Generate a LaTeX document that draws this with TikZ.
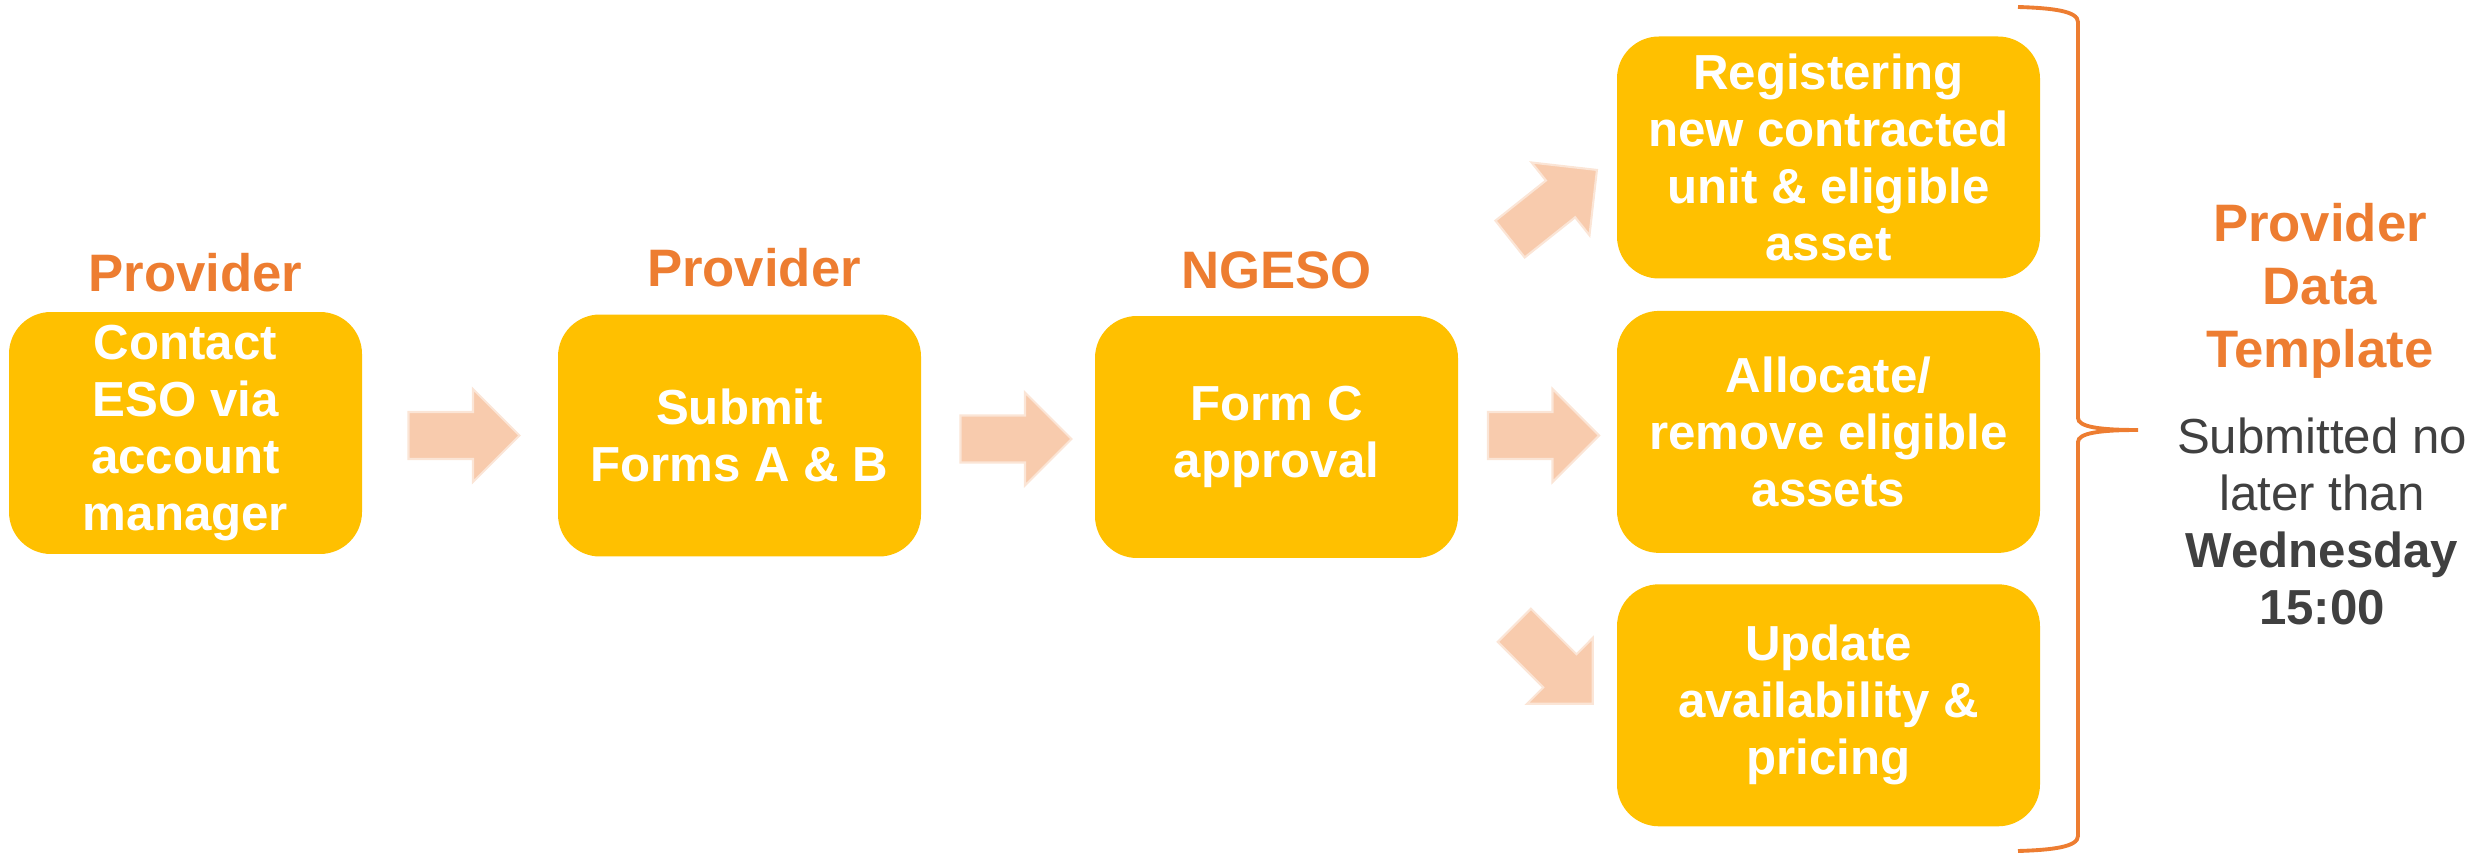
\documentclass[tikz,border=0pt]{standalone}
\usepackage{fontspec}
\setmainfont{Liberation Sans}
\usetikzlibrary{positioning}
\definecolor{boxgold}{HTML}{FFC000}
\definecolor{arrowfill}{HTML}{F8CBAD}
\definecolor{arrowline}{HTML}{FBE5D6}
\definecolor{labelorange}{HTML}{ED7D31}
\definecolor{notegray}{HTML}{404040}

\begin{document}
\begin{tikzpicture}[x=0.1mm,y=-0.1mm]
\tikzstyle{box} = [fill=boxgold,rounded corners=4.2mm,text=white,font=\fontsize{14}{16.2}\selectfont\bfseries,align=center,inner sep=0pt,minimum height=24.2mm]
\tikzstyle{lbl} = [text=labelorange,font=\fontsize{15}{17.9}\selectfont\bfseries,inner sep=0pt]
\tikzstyle{barrow} = [fill=arrowfill,draw=arrowline,line width=0.6pt,line join=miter]
\tikzstyle{brace} = [draw=labelorange,line width=1.1pt]

\useasboundingbox (0,0) rectangle (2479,854);

\node[box,minimum width=35.3mm] (b1) at (185.5,433) {Contact\\ESO via\\account\\manager};
\node[box,minimum width=36.3mm] (b2) at (739.5,435.5) {Submit\\Forms A \& B};
\node[box,minimum width=36.3mm] (b3) at (1276.5,437) {Form C\\approval};

\node[box,minimum width=42.3mm] (b4) at (1828.5,157.5) {Registering\\new contracted\\unit \& eligible\\asset};
\node[box,minimum width=42.3mm,below=3.1mm of b4] (b5) {Allocate/\\remove eligible\\assets};
\node[box,minimum width=42.3mm,below=3mm of b5] (b6) {Update\\availability \&\\pricing};

\node[lbl,above=1.9mm of b1,xshift=1mm] (p1) {Provider};
\node[lbl,above=2.6mm of b2,xshift=1.45mm] (p2) {Provider};
\node[lbl,above=2.6mm of b3] (p3) {NGESO};

\foreach \px/\py/\ang in {464/435.5/0, 1016/439/0, 1543.5/435.5/0, 1553.5/204.5/38.5, 1553.5/664.5/-45}
  \draw[barrow,shift={(\px,\py)},rotate=\ang] (-55.5,-23.5) -- (9,-23.5) -- (9,-46.5) -- (55.5,0)
    -- (9,46.5) -- (9,23.5) -- (-55.5,23.5) -- cycle;

\draw[brace] (2018,7) .. controls (2052,8) and (2078,11) .. (2078,22) -- (2078,418)
  .. controls (2078,427) and (2100,430) .. (2138,430)
  .. controls (2100,430) and (2078,433) .. (2078,442) -- (2078,836)
  .. controls (2078,847) and (2052,850) .. (2018,851);

\node[lbl,align=center] (t1) at (2320,291) {Provider\\Data\\Template};
\node[text=notegray,font=\fontsize{14}{16.2}\selectfont,align=center,inner sep=0pt] (t2) at (2322,521.5) {Submitted no\\later than\\\textbf{Wednesday}\\\textbf{15:00}};
\end{tikzpicture}
\end{document}
